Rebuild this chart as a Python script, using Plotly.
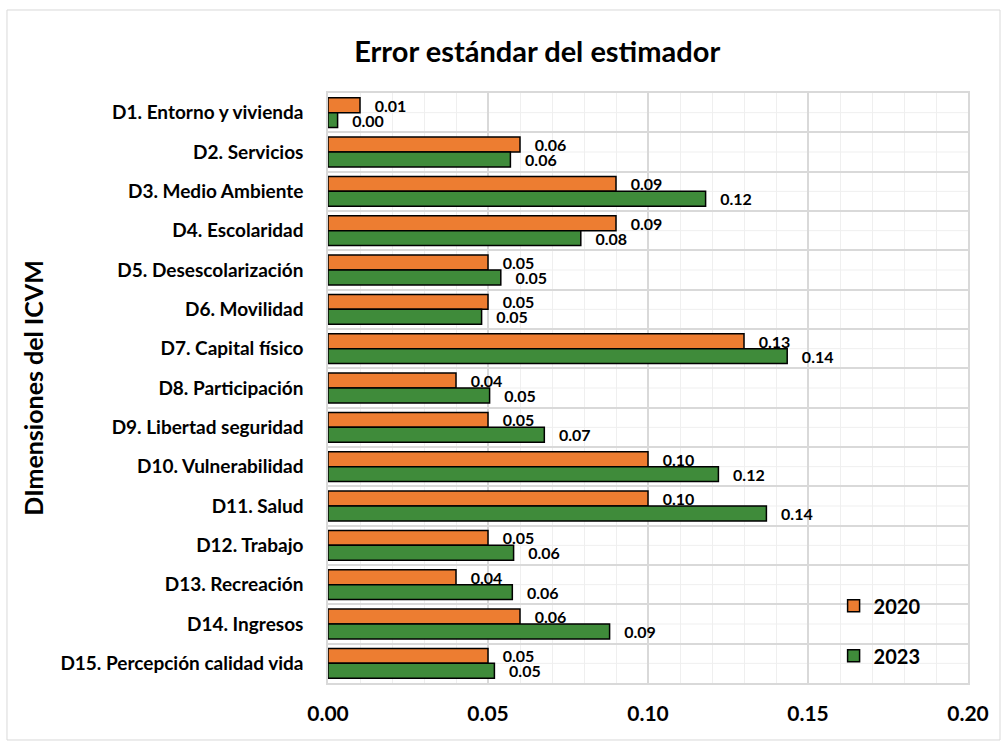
import plotly.graph_objects as go

categories = [
    "D1. Entorno y vivienda",
    "D2. Servicios",
    "D3. Medio Ambiente",
    "D4. Escolaridad",
    "D5. Desescolarización",
    "D6. Movilidad",
    "D7. Capital físico",
    "D8. Participación",
    "D9. Libertad seguridad",
    "D10. Vulnerabilidad",
    "D11. Salud",
    "D12. Trabajo",
    "D13. Recreación",
    "D14. Ingresos",
    "D15. Percepción calidad vida",
]
values_2020 = [0.010, 0.060, 0.090, 0.090, 0.050, 0.050, 0.130, 0.040, 0.050, 0.100, 0.100, 0.050, 0.040, 0.060, 0.050]
values_2023 = [0.003, 0.057, 0.118, 0.079, 0.054, 0.048, 0.1435, 0.0505, 0.0676, 0.122, 0.137, 0.058, 0.0576, 0.088, 0.052]
x_ticks = [0.00, 0.05, 0.10, 0.15, 0.20]

FONT = "Lato"
ORANGE = "#ED7D31"
GREEN = "#3F8B3A"
MAJOR = "#d9d9d9"
MINOR = "#efefef"
PAD = "\u00a0\u00a0\u00a0"

fig = go.Figure()
fig.add_trace(go.Bar(
    y=categories, x=values_2020, orientation="h", name="2020",
    marker=dict(color=ORANGE, line=dict(color="black", width=1.5)),
    texttemplate=PAD + "%{x:.2f}", textposition="outside", constraintext="none",
    textfont=dict(family=FONT, size=16, color="black", weight="bold"),
    cliponaxis=False, legendgroup="a",
))
fig.add_trace(go.Bar(
    y=categories, x=values_2023, orientation="h", name="2023",
    marker=dict(color=GREEN, line=dict(color="black", width=1.5)),
    texttemplate=PAD + "%{x:.2f}", textposition="outside", constraintext="none",
    textfont=dict(family=FONT, size=16, color="black", weight="bold"),
    cliponaxis=False, legendgroup="b",
))

# minor horizontal gridlines at category centres
for c in categories:
    fig.add_shape(type="line", xref="x domain", yref="y", x0=0, x1=1, y0=c, y1=c,
                  line=dict(color=MINOR, width=1), layer="below")

# outer chart border
fig.add_shape(type="rect", xref="paper", yref="paper",
              x0=-0.5016, x1=1.05, y0=-0.0966, y1=1.1407,
              line=dict(color=MAJOR, width=1), layer="below")

fig.update_layout(
    width=1006, height=744,
    margin=dict(l=328, r=38, t=93, b=61),
    paper_bgcolor="white", plot_bgcolor="white",
    barmode="group", bargap=0.24, bargroupgap=0,
    font=dict(family=FONT, color="black"),
    title=dict(text="Error estándar del estimador", x=0.534, xref="container", xanchor="center",
               y=1 - 52 / 744, yref="container", yanchor="middle",
               font=dict(family=FONT, size=29, color="black", weight="bold")),
    xaxis=dict(range=[0, 0.2], tickvals=x_ticks, tickformat=".2f",
               tickfont=dict(family=FONT, size=21, color="black", weight="bold"),
               showgrid=True, gridcolor=MAJOR, gridwidth=1.5,
               minor=dict(dtick=0.01, showgrid=True, gridcolor=MINOR, gridwidth=1),
               showline=True, linecolor=MAJOR, linewidth=1.5, mirror=True,
               zeroline=False, ticks="", ticklabelstandoff=11),
    yaxis=dict(autorange="reversed", type="category", tickson="boundaries",
               tickfont=dict(family=FONT, size=19, color="black", weight="bold"),
               showgrid=True, gridcolor=MAJOR, gridwidth=1.5,
               showline=True, linecolor=MAJOR, linewidth=1.5, mirror=True,
               ticks="", ticklabelstandoff=19,
               title=dict(text="DImensiones del ICVM", standoff=10,
                          font=dict(family=FONT, size=25, color="black", weight="bold"))),
    legend=dict(x=0.79, y=0.164, xanchor="left", yanchor="top",
                bgcolor="rgba(0,0,0,0)", traceorder="grouped", tracegroupgap=21,
                font=dict(family=FONT, size=20, color="black", weight="bold")),
)

fig.write_html("out.html", config={"displayModeBar": False},
               post_script="document.body.style.margin='0';document.body.style.overflow='hidden';")
